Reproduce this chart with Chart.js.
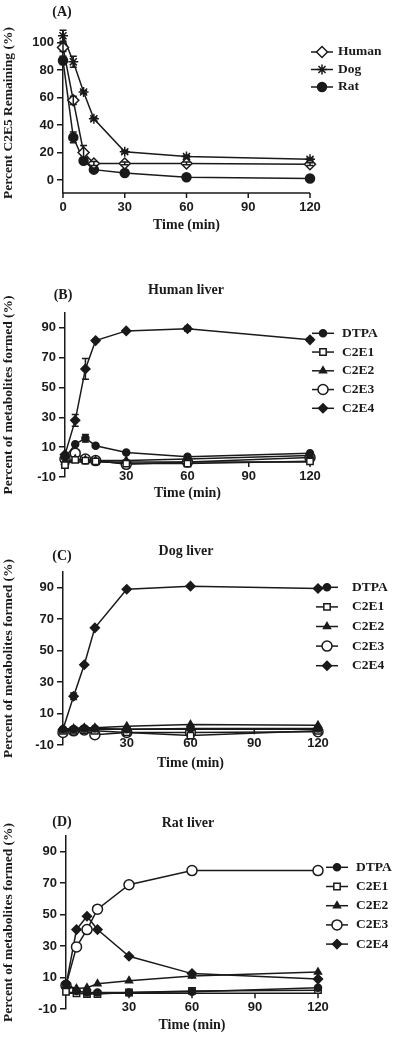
<!DOCTYPE html>
<html>
<head>
<meta charset="utf-8">
<script src="https://cdn.jsdelivr.net/npm/chart.js"></script>
<style>
body { margin: 0; background: #fff; width: 400px; height: 1037px; position: relative; overflow: hidden; }
.panel { position: absolute; left: 0; width: 400px; }
.lab { position: absolute; font: bold 14px "Liberation Serif", "Times New Roman", serif; color: #1a1a1a; transform: translate(-50%, -50%); white-space: nowrap; }
</style>
</head>
<body>
<div class="panel" style="top:0;height:240px"><canvas id="cA" width="400" height="240"></canvas></div>
<div class="panel" style="top:240px;height:265px"><canvas id="cB" width="400" height="265"></canvas></div>
<div class="panel" style="top:505px;height:270px"><canvas id="cC" width="400" height="270"></canvas></div>
<div class="panel" style="top:775px;height:262px"><canvas id="cD" width="400" height="262"></canvas></div>

<div class="lab" style="left:62px;top:12px">(A)</div>
<div class="lab" style="left:63px;top:295px">(B)</div>
<div class="lab" style="left:186px;top:290px">Human liver</div>
<div class="lab" style="left:62px;top:556px">(C)</div>
<div class="lab" style="left:186px;top:551px">Dog liver</div>
<div class="lab" style="left:62px;top:822px">(D)</div>
<div class="lab" style="left:188px;top:823px">Rat liver</div>

<script>
// sampling times (min)
const times = [0, 5, 10, 15, 30, 60, 120];
const xTicksA = [0, 30, 60, 90, 120];
const xTicksLiver = [30, 60, 90, 120];
const yTicksA = [0, 20, 40, 60, 80, 100];
const yTicksLiver = [-10, 10, 30, 50, 70, 90];

// (A) C2E5 remaining
const humanRemain = [96.5, 58, 20, 12, 12, 12, 11.5];
const humanRemainErr = [3, 3, 5, 1.5, 1, 1, 1];
const dogRemain = [105, 86, 64, 44.5, 20.5, 17, 15];
const dogRemainErr = [4, 4, 1, 1, 1, 1, 1];
const ratRemain = [87, 31, 14, 7.5, 5, 2, 1];
const ratRemainErr = [3, 4, 2, 1, 1, 0.5, 0.5];

// (B) human liver metabolites
const humanDTPA = [3, 12, 16, 11, 6.5, 3.5, 6];
const humanC2E1 = [-2, 1.5, 1, 0.5, -1, -1, 0.5];
const humanC2E2 = [0, 2, 1.5, 1, 1, 2, 4.5];
const humanC2E3 = [2, 6, 2, 1, -1.5, 0, 3];
const humanC2E4 = [5, 28, 62.5, 81.5, 88, 89.5, 82];
const humanC2E4Err = [0, 4, 7, 1, 0.5, 1.5, 1];
const humanDTPAErr = [0, 0, 2.5, 0, 0, 0, 0];

// (C) dog liver metabolites
const dogDTPA = [0, 0, 0.5, 0.5, 0, 0.5, 0.5];
const dogC2E1 = [-1, -1, -0.5, -1, -2, -4, -1];
const dogC2E2 = [0, 0.5, 1, 1, 2, 3, 2.5];
const dogC2E3 = [-2, -1, -0.5, -3.5, -2, -2, -1.5];
const dogC2E4 = [0, 21, 41, 64.5, 89, 91, 89.5];
const dogC2E4Err = [0, 2, 0.5, 0.5, 0.5, 0.5, 0.5];

// (D) rat liver metabolites
const ratDTPA = [6, 1.5, 0.5, 0.5, 0.5, 1, 3.5];
const ratC2E1 = [1, 0, -0.5, -0.5, 0.5, 1.5, 2];
const ratC2E2 = [5, 3, 3.5, 6, 8, 11, 13.5];
const ratC2E3 = [5, 29.5, 40.5, 53.5, 69, 78, 78];
const ratC2E4 = [5, 40.5, 49, 40.5, 23.5, 12.5, 9];

const INK = '#1a1a1a';
const SERIF = '"Liberation Serif", "Times New Roman", serif';
const SANS = '"Liberation Sans Narrow", "Liberation Sans", Arial, sans-serif';

const marks = {
  Human: { pointStyle: 'rectRot', pointRadius: 5.5, pointBackgroundColor: '#fff' },
  Dog:   { pointStyle: 'star', pointRadius: 5, pointBackgroundColor: INK },
  Rat:   { pointStyle: 'circle', pointRadius: 4.5, pointBackgroundColor: INK },
  DTPA:  { pointStyle: 'circle', pointRadius: 3.5, pointBackgroundColor: INK },
  C2E1:  { pointStyle: 'rect', pointRadius: 4.5, pointBackgroundColor: '#fff' },
  C2E2:  { pointStyle: 'triangle', pointRadius: 4, pointBackgroundColor: INK },
  C2E3:  { pointStyle: 'circle', pointRadius: 5, pointBackgroundColor: '#fff' },
  C2E4:  { pointStyle: 'rectRot', pointRadius: 4.5, pointBackgroundColor: INK }
};

// error bars, through the scales
const errorBars = {
  id: 'errorBars',
  afterDatasetsDraw(chart) {
    const ctx = chart.ctx, ys = chart.scales.y;
    chart.data.datasets.forEach((ds, i) => {
      if (!ds.err) return;
      const meta = chart.getDatasetMeta(i);
      meta.data.forEach((pt, j) => {
        const e = ds.err[j];
        if (!e) return;
        const v = ds.data[j].y;
        const y1 = ys.getPixelForValue(v + e), y2 = ys.getPixelForValue(v - e);
        ctx.save();
        ctx.strokeStyle = INK;
        ctx.lineWidth = 1.5;
        ctx.beginPath();
        ctx.moveTo(pt.x, y1); ctx.lineTo(pt.x, y2);
        ctx.moveTo(pt.x - 3.5, y1); ctx.lineTo(pt.x + 3.5, y1);
        ctx.moveTo(pt.x - 3.5, y2); ctx.lineTo(pt.x + 3.5, y2);
        ctx.stroke();
        ctx.restore();
      });
    });
  }
};

// x axis drawn at a y value (Prism style), with tick marks and labels below it
const xAxisAt = {
  id: 'xAxisAt',
  beforeDatasetsDraw(chart, args, opts) {
    const ctx = chart.ctx, xs = chart.scales.x, ys = chart.scales.y;
    const y = ys.getPixelForValue(opts.value);
    ctx.save();
    ctx.strokeStyle = INK;
    ctx.lineWidth = 1.5;
    ctx.beginPath();
    ctx.moveTo(xs.left, y); ctx.lineTo(xs.right, y);
    xs.ticks.forEach(t => {
      const x = xs.getPixelForValue(t.value);
      ctx.moveTo(x, y); ctx.lineTo(x, y + 5);
    });
    ctx.stroke();
    ctx.restore();
  },
  afterDraw(chart, args, opts) {
    const ctx = chart.ctx, xs = chart.scales.x, ys = chart.scales.y;
    const y = ys.getPixelForValue(opts.value) + 14.5;
    ctx.save();
    ctx.fillStyle = INK;
    ctx.font = 'bold 13px ' + SANS;
    ctx.textAlign = 'center';
    ctx.textBaseline = 'middle';
    xs.ticks.forEach(t => ctx.fillText(String(t.value), xs.getPixelForValue(t.value), y));
    ctx.restore();
  }
};

// Prism-like legend on the right: line - marker - line, then label
const sideLegend = {
  id: 'sideLegend',
  afterDraw(chart, args, opts) {
    const ctx = chart.ctx;
    chart.data.datasets.forEach((ds, i) => {
      const y = opts.y + i * opts.gap;
      ctx.save();
      ctx.strokeStyle = INK;
      ctx.lineWidth = 1.5;
      ctx.beginPath();
      ctx.moveTo(opts.x - 11, y); ctx.lineTo(opts.x + 11, y);
      ctx.stroke();
      ctx.fillStyle = ds.pointBackgroundColor;
      ctx.strokeStyle = INK;
      ctx.lineWidth = 1.5;
      Chart.helpers.drawPoint(ctx, { pointStyle: ds.pointStyle, radius: ds.pointRadius, borderWidth: 1.5, rotation: 0 }, opts.x, y);
      ctx.fillStyle = INK;
      ctx.font = 'bold 13.5px ' + SERIF;
      ctx.textBaseline = 'middle';
      ctx.textAlign = 'left';
      ctx.fillText(ds.label, opts.tx, y);
      ctx.restore();
    });
  }
};

function makeChart(id, p) {
  const datasets = p.series.map(s => Object.assign({
    label: s.label,
    data: times.map((t, i) => ({ x: t, y: s.values[i] })),
    err: s.err,
    borderColor: INK,
    borderWidth: 1.5,
    pointBorderColor: INK,
    pointBorderWidth: 1.5,
    tension: 0,
    fill: false,
    clip: false
  }, marks[s.label]));

  new Chart(id, {
    type: 'line',
    data: { datasets: datasets },
    plugins: [xAxisAt, errorBars, sideLegend],
    options: {
      responsive: false,
      animation: false,
      layout: { padding: { left: 0, top: p.box.top, right: 400 - p.box.right, bottom: 0 } },
      plugins: {
        legend: { display: false },
        tooltip: { enabled: false },
        xAxisAt: { value: p.axisAt },
        sideLegend: p.legend
      },
      scales: {
        x: {
          type: 'linear',
          min: 0, max: 120,
          afterBuildTicks: s => { s.ticks = p.xTicks.map(v => ({ value: v })); },
          afterFit: s => { s.height = p.box.h - p.box.bottom; },
          border: { display: false },
          grid: { display: false, drawTicks: false },
          ticks: { display: false },
          title: { display: true, text: 'Time (min)', color: INK, padding: { top: 0, bottom: p.titlePad }, font: { family: SERIF, size: 14, weight: 'bold' } }
        },
        y: {
          min: p.yMin, max: p.yMax,
          afterBuildTicks: s => { s.ticks = p.yTicks.map(v => ({ value: v })); },
          afterFit: s => { s.width = p.box.left; },
          border: { display: true, color: INK, width: 1.5 },
          grid: { drawOnChartArea: false, drawTicks: true, tickLength: 6, color: INK, lineWidth: 1.5 },
          ticks: { color: INK, padding: 3, font: { family: SANS, size: 13, weight: 'bold' } },
          title: { display: true, text: p.yTitle, color: INK, padding: { top: 0, bottom: 0 }, font: { family: SERIF, size: 13.5, weight: 'bold' } }
        }
      }
    }
  });
}

makeChart('cA', {
  series: [
    { label: 'Human', values: humanRemain, err: humanRemainErr },
    { label: 'Dog', values: dogRemain, err: dogRemainErr },
    { label: 'Rat', values: ratRemain, err: ratRemainErr }
  ],
  box: { left: 63, right: 310, top: 33, bottom: 193, h: 240 },
  yMin: -9.5, yMax: 107, yTicks: yTicksA, xTicks: xTicksA,
  axisAt: -9.5, titlePad: 6.5,
  yTitle: 'Percent C2E5 Remaining (%)',
  legend: { x: 322, tx: 338, y: 52, gap: 17.5 }
});

makeChart('cB', {
  series: [
    { label: 'DTPA', values: humanDTPA, err: humanDTPAErr },
    { label: 'C2E1', values: humanC2E1 },
    { label: 'C2E2', values: humanC2E2 },
    { label: 'C2E3', values: humanC2E3 },
    { label: 'C2E4', values: humanC2E4, err: humanC2E4Err }
  ],
  box: { left: 65, right: 310, top: 73, bottom: 237, h: 265 },
  yMin: -10, yMax: 100, yTicks: yTicksLiver, xTicks: xTicksLiver,
  axisAt: 0, titlePad: 3.6,
  yTitle: 'Percent of metabolites formed (%)',
  legend: { x: 323, tx: 342, y: 93.3, gap: 18.75 }
});

makeChart('cC', {
  series: [
    { label: 'DTPA', values: dogDTPA },
    { label: 'C2E1', values: dogC2E1 },
    { label: 'C2E2', values: dogC2E2 },
    { label: 'C2E3', values: dogC2E3 },
    { label: 'C2E4', values: dogC2E4, err: dogC2E4Err }
  ],
  box: { left: 63, right: 318, top: 67, bottom: 240, h: 270 },
  yMin: -10, yMax: 100, yTicks: yTicksLiver, xTicks: xTicksLiver,
  axisAt: 0, titlePad: 3.6,
  yTitle: 'Percent of metabolites formed (%)',
  legend: { x: 327, tx: 352, y: 82.3, gap: 19.6 }
});

makeChart('cD', {
  series: [
    { label: 'DTPA', values: ratDTPA },
    { label: 'C2E1', values: ratC2E1 },
    { label: 'C2E2', values: ratC2E2 },
    { label: 'C2E3', values: ratC2E3 },
    { label: 'C2E4', values: ratC2E4 }
  ],
  box: { left: 66, right: 318, top: 61, bottom: 234, h: 262 },
  yMin: -10, yMax: 100, yTicks: yTicksLiver, xTicks: xTicksLiver,
  axisAt: 0, titlePad: 3.6,
  yTitle: 'Percent of metabolites formed (%)',
  legend: { x: 337, tx: 356, y: 92.3, gap: 19.2 }
});
</script>
</body>
</html>
